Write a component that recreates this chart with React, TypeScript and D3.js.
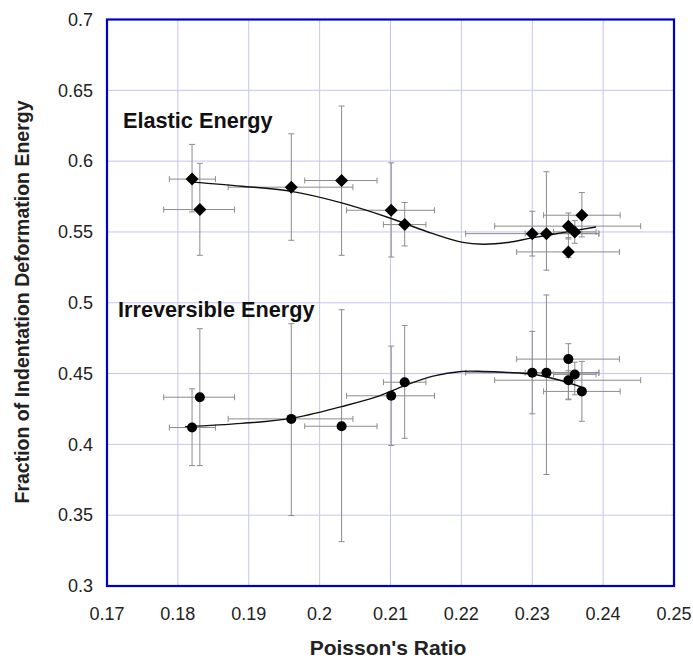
import React from "react";
import * as d3 from "d3";

const xTicks = [0.17, 0.18, 0.19, 0.2, 0.21, 0.22, 0.23, 0.24, 0.25];
const yTicks = [0.3, 0.35, 0.4, 0.45, 0.5, 0.55, 0.6, 0.65, 0.7];

const elasticX = [0.182, 0.1831, 0.196, 0.2031, 0.2101, 0.212, 0.23, 0.232, 0.2351, 0.236, 0.2351, 0.237];
const elasticY = [0.5873, 0.5658, 0.5816, 0.5863, 0.5653, 0.5552, 0.5488, 0.5488, 0.5541, 0.55, 0.5359, 0.5618];
const elasticXLow = [0.1788, 0.178, 0.1871, 0.1979, 0.2038, 0.209, 0.2206, 0.229, 0.2247, 0.233, 0.2278, 0.2316];
const elasticXHigh = [0.1853, 0.188, 0.2047, 0.2081, 0.2162, 0.215, 0.2394, 0.2394, 0.2453, 0.239, 0.2423, 0.2424];
const elasticYLow = [0.5641, 0.5335, 0.5441, 0.5335, 0.5323, 0.5401, 0.533, 0.523, 0.545, 0.542, 0.532, 0.5465];
const elasticYHigh = [0.6118, 0.5984, 0.6193, 0.6389, 0.5988, 0.5708, 0.5646, 0.5925, 0.5634, 0.558, 0.546, 0.5778];

const irrevX = [0.182, 0.1831, 0.196, 0.2031, 0.2101, 0.212, 0.23, 0.232, 0.2351, 0.236, 0.2351, 0.237];
const irrevY = [0.4119, 0.4333, 0.418, 0.4128, 0.4343, 0.4439, 0.4506, 0.4506, 0.4602, 0.4494, 0.4453, 0.4374];
const irrevXLow = [0.1788, 0.178, 0.1871, 0.1979, 0.2038, 0.209, 0.2206, 0.229, 0.2278, 0.233, 0.2247, 0.2316];
const irrevXHigh = [0.1853, 0.188, 0.2047, 0.2081, 0.2162, 0.215, 0.2394, 0.2394, 0.2423, 0.239, 0.2453, 0.2424];
const irrevYLow = [0.385, 0.385, 0.3497, 0.3313, 0.3992, 0.4043, 0.4216, 0.3787, 0.4315, 0.435, 0.432, 0.4163];
const irrevYHigh = [0.4392, 0.4817, 0.4852, 0.4951, 0.4694, 0.484, 0.4798, 0.5055, 0.4711, 0.458, 0.452, 0.4586];

const elasticCurveX = [0.182, 0.189, 0.196, 0.2031, 0.2101, 0.215, 0.22, 0.2231, 0.2265, 0.23, 0.2345, 0.239];
const elasticCurveY = [0.5852, 0.5823, 0.5786, 0.5705, 0.5595, 0.5505, 0.5428, 0.5413, 0.5425, 0.5458, 0.5497, 0.5535];
const irrevCurveX = [0.181, 0.189, 0.196, 0.2031, 0.208, 0.212, 0.216, 0.22, 0.2231, 0.2265, 0.23, 0.2335, 0.237];
const irrevCurveY = [0.4125, 0.4148, 0.4184, 0.4267, 0.4335, 0.4415, 0.4482, 0.4515, 0.4515, 0.4508, 0.4495, 0.4458, 0.4404];

const W = 693;
const H = 661;
const left = 107;
const right = 674;
const top = 19.5;
const bottom = 586;

export default function App() {
  const x = d3.scaleLinear().domain([0.17, 0.25]).range([left, right]);
  const y = d3.scaleLinear().domain([0.3, 0.7]).range([bottom, top]);
  const line = d3
    .line<[number, number]>()
    .x((d) => x(d[0]))
    .y((d) => y(d[1]))
    .curve(d3.curveCatmullRom.alpha(0.5));

  const errColor = "#8c8c8c";
  const cap = 3;

  const renderErr = (
    xs: number[], ys: number[], xl: number[], xh: number[], yl: number[], yh: number[], key: string
  ) =>
    xs.map((xv, i) => (
      <g key={key + i} stroke={errColor} strokeWidth={1} fill="none">
        <line x1={x(xl[i])} x2={x(xh[i])} y1={y(ys[i])} y2={y(ys[i])} />
        <line x1={x(xl[i])} x2={x(xl[i])} y1={y(ys[i]) - cap} y2={y(ys[i]) + cap} />
        <line x1={x(xh[i])} x2={x(xh[i])} y1={y(ys[i]) - cap} y2={y(ys[i]) + cap} />
        <line x1={x(xv)} x2={x(xv)} y1={y(yl[i])} y2={y(yh[i])} />
        <line x1={x(xv) - cap} x2={x(xv) + cap} y1={y(yl[i])} y2={y(yl[i])} />
        <line x1={x(xv) - cap} x2={x(xv) + cap} y1={y(yh[i])} y2={y(yh[i])} />
      </g>
    ));

  const font = "Arial, 'Liberation Sans', Helvetica, sans-serif";
  const ds = 6.5;

  return (
    <svg width={W} height={H} style={{ position: "absolute", left: 0, top: 0, background: "#fff" }} fontFamily={font}>
      <rect x={0} y={0} width={W} height={H} fill="#fff" />
      <g stroke="#c4c4f2" strokeWidth={1}>
        {xTicks.slice(1, -1).map((t) => (
          <line key={"gx" + t} x1={x(t)} x2={x(t)} y1={top} y2={bottom} />
        ))}
        {yTicks.slice(1, -1).map((t) => (
          <line key={"gy" + t} x1={left} x2={right} y1={y(t)} y2={y(t)} />
        ))}
      </g>
      {renderErr(elasticX, elasticY, elasticXLow, elasticXHigh, elasticYLow, elasticYHigh, "e")}
      {renderErr(irrevX, irrevY, irrevXLow, irrevXHigh, irrevYLow, irrevYHigh, "r")}
      <path
        d={line(elasticCurveX.map((v, i) => [v, elasticCurveY[i]]) as [number, number][]) || ""}
        fill="none"
        stroke="#111"
        strokeWidth={1.4}
      />
      <path
        d={line(irrevCurveX.map((v, i) => [v, irrevCurveY[i]]) as [number, number][]) || ""}
        fill="none"
        stroke="#111"
        strokeWidth={1.4}
      />
      {elasticX.map((xv, i) => {
        const cx = x(xv);
        const cy = y(elasticY[i]);
        return (
          <path
            key={"ed" + i}
            d={`M${cx},${cy - ds}L${cx + ds},${cy}L${cx},${cy + ds}L${cx - ds},${cy}Z`}
            fill="#000"
          />
        );
      })}
      {irrevX.map((xv, i) => (
        <circle key={"ic" + i} cx={x(xv)} cy={y(irrevY[i])} r={5} fill="#000" />
      ))}
      <rect x={left} y={top} width={right - left} height={bottom - top} fill="none" stroke="#0000c8" strokeWidth={2.2} />
      {yTicks.map((t) => (
        <text key={"yt" + t} x={93} y={y(t)} dy="0.35em" textAnchor="end" fontSize={18} fill="#222">
          {String(t)}
        </text>
      ))}
      {xTicks.map((t) => (
        <text key={"xt" + t} x={x(t)} y={620} textAnchor="middle" fontSize={18} fill="#222">
          {String(t)}
        </text>
      ))}
      <text x={123} y={127.5} fontSize={21.7} fontWeight="bold" fill="#111">
        Elastic Energy
      </text>
      <text x={118} y={316.5} fontSize={21.7} fontWeight="bold" fill="#111">
        Irreversible Energy
      </text>
      <text x={388} y={655} textAnchor="middle" fontSize={21} fontWeight="bold" fill="#222">
        Poisson's Ratio
      </text>
      <text
        transform={`translate(29, 302) rotate(-90)`}
        textAnchor="middle"
        fontSize={19.5}
        fontWeight="bold"
        fill="#222"
      >
        Fraction of Indentation Deformation Energy
      </text>
    </svg>
  );
}
